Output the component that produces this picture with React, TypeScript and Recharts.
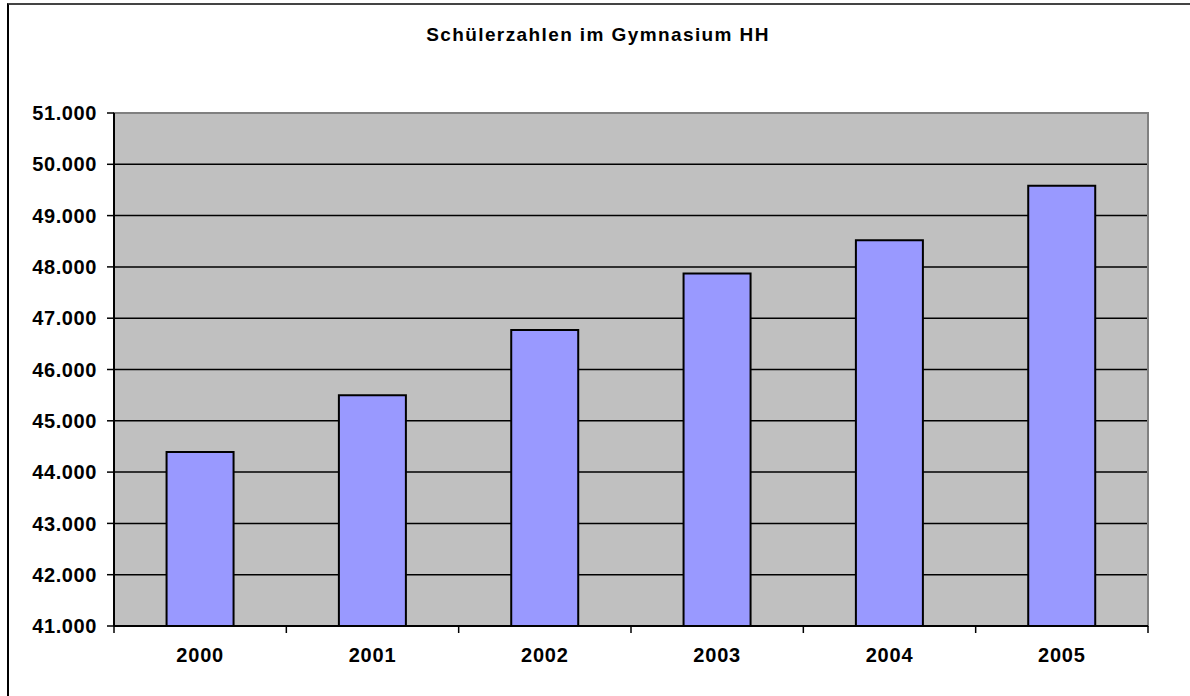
import React from 'react';
import { BarChart, Bar, XAxis, YAxis, CartesianGrid, ReferenceArea } from 'recharts';

const years = ['2000', '2001', '2002', '2003', '2004', '2005'];
const pupils = [44390, 45500, 46770, 47870, 48520, 49580];
const yTicks = [41000, 42000, 43000, 44000, 45000, 46000, 47000, 48000, 49000, 50000, 51000];
const gridValues = [42000, 43000, 44000, 45000, 46000, 47000, 48000, 49000, 50000];

const data = years.map((year, i) => ({ year, pupils: pupils[i] }));

// German thousands separator: 51000 -> 51.000
const fmt = (v: number) => String(v).replace(/\B(?=(\d{3})+(?!\d))/g, '.');

const FONT = '"Liberation Sans", Arial, sans-serif';
const LABEL_GAP = 22;

// year label plus the small tick marks that sit between the categories
const YearTick = (props: any) => {
  const { x, y, payload, index, visibleTicksCount, width } = props;
  const band = width / visibleTicksCount;
  const axisY = y - LABEL_GAP;
  const left = x - band / 2;
  return (
    <g>
      <line x1={left} x2={left} y1={axisY} y2={axisY + 7} stroke="#000" strokeWidth={1.5} />
      {index === visibleTicksCount - 1 && (
        <line x1={left + band} x2={left + band} y1={axisY} y2={axisY + 7} stroke="#000" strokeWidth={1.5} />
      )}
      <text
        x={x}
        y={y}
        dy="0.71em"
        textAnchor="middle"
        fill="#000"
        fontSize={20}
        fontWeight="bold"
        fontFamily={FONT}
        letterSpacing={0.8}
      >
        {payload.value}
      </text>
    </g>
  );
};

export default function App() {
  return (
    <div
      style={{
        position: 'absolute',
        left: 0,
        top: 0,
        width: 1190,
        height: 696,
        overflow: 'hidden',
        background: '#fff',
        fontFamily: FONT,
      }}
    >
      {/* outer chart frame */}
      <div
        style={{
          position: 'absolute',
          left: 7,
          top: 3,
          width: 1300,
          height: 800,
          borderLeft: '2px solid #000',
          borderTop: '2px solid #444',
        }}
      />
      <div
        style={{
          position: 'absolute',
          top: 26,
          left: 0,
          width: 1196,
          textAlign: 'center',
          fontSize: 19,
          lineHeight: '18px',
          letterSpacing: '1.4px',
          fontWeight: 'bold',
          color: '#000',
        }}
      >
        Schülerzahlen im Gymnasium HH
      </div>
      <div style={{ position: 'absolute', left: 0, top: 0 }}>
        <BarChart
          width={1190}
          height={696}
          data={data}
          margin={{ top: 113, right: 42, left: 14, bottom: 0 }}
          barCategoryGap="30.5%"
        >
          <CartesianGrid
            vertical={false}
            horizontalValues={gridValues}
            stroke="#000"
            strokeWidth={1.5}
            fill="#C0C0C0"
            fillOpacity={1}
          />
          <ReferenceArea y1={41000} y2={51000} fill="none" stroke="#808080" strokeWidth={2} />
          <XAxis
            dataKey="year"
            height={70}
            interval={0}
            axisLine={{ stroke: '#000', strokeWidth: 2 }}
            tickLine={false}
            tickSize={0}
            tickMargin={LABEL_GAP}
            tick={YearTick}
          />
          <YAxis
            width={100}
            domain={[41000, 51000]}
            ticks={yTicks}
            interval={0}
            allowDataOverflow
            tickFormatter={fmt}
            axisLine={{ stroke: '#000', strokeWidth: 2 }}
            tickLine={{ stroke: '#000', strokeWidth: 1.5 }}
            tickSize={7}
            tickMargin={10}
            tick={{ fill: '#000', fontSize: 20, fontWeight: 'bold', fontFamily: FONT, letterSpacing: 0.6 }}
          />
          <Bar
            dataKey="pupils"
            fill="#9999FF"
            stroke="#000"
            strokeWidth={2}
            isAnimationActive={false}
          />
        </BarChart>
      </div>
    </div>
  );
}
